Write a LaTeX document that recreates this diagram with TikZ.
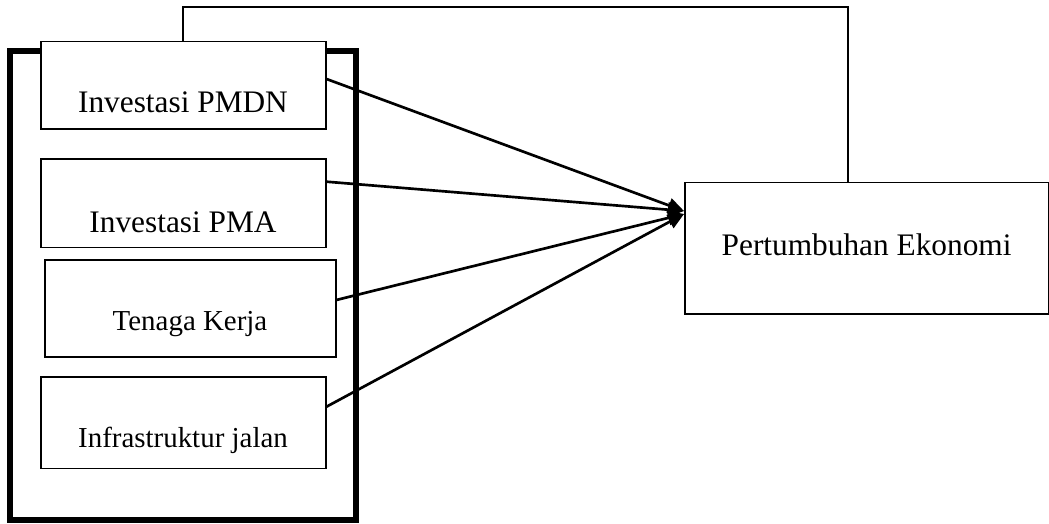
\documentclass[tikz,border=0pt]{standalone}
\usepackage{fontspec}
\setmainfont{Liberation Serif}
\usetikzlibrary{fit,arrows.meta,calc}
\begin{document}
\begin{tikzpicture}[x=0.75pt,y=-0.75pt,
  box/.style={draw, line width=1.2pt, fill=white, inner sep=0pt},
  grp/.style={draw, line width=4.5pt, inner sep=0pt},
  lbl/.style={anchor=base, inner sep=0pt, font=\fontsize{23.5}{28}\selectfont},
  lbls/.style={anchor=base, inner sep=0pt, font=\fontsize{21.7}{26}\selectfont},
  link/.style={line width=1.3pt},
  arr/.style={line width=2pt, -{Triangle[length=12pt,width=11pt]}}]
\useasboundingbox (0,0) rectangle (1049,524);
\node[grp, fit={(10.3,50.7) (355.5,520)}] (group) {};
\node[box, fit={(40.7,41.7) (325.7,129.3)}] (pmdn) {};
\node[box, fit={(40.7,159.3) (325.7,247.3)}] (pma) {};
\node[box, fit={(45,260) (335.7,356.7)}] (tk) {};
\node[box, fit={(40.7,376.7) (325.7,468.3)}] (infra) {};
\node[box, fit={(685,182.7) (1048.3,314)}] (peko) {};
\node[lbl] (pmdnT) at (183,113) {Investasi PMDN};
\node[lbl] (pmaT) at (183,232) {Investasi PMA};
\node[lbls] (tkT) at (190,330) {Tenaga Kerja};
\node[lbls] (infraT) at (183,447) {Infrastruktur jalan};
\node[lbl] (pekoT) at (866.6,255) {Pertumbuhan Ekonomi};
\coordinate (fbTop) at (848.3,7.3);
\draw[link] (pmdn.north) |- (fbTop) -- (fbTop |- peko.north);
\coordinate (tipA) at (684,211);
\coordinate (tipB) at (684,214);
\draw[arr] ($(pmdn.east)+(0,-6.5)$) -- (tipA);
\draw[arr] ($(pma.east)+(0,-21.6)$) -- (tipA);
\draw[arr] ($(tk.east)+(0,-8.4)$) -- (tipB);
\draw[arr] ($(infra.east)+(0,-15.8)$) -- (tipB);
\end{tikzpicture}
\end{document}
